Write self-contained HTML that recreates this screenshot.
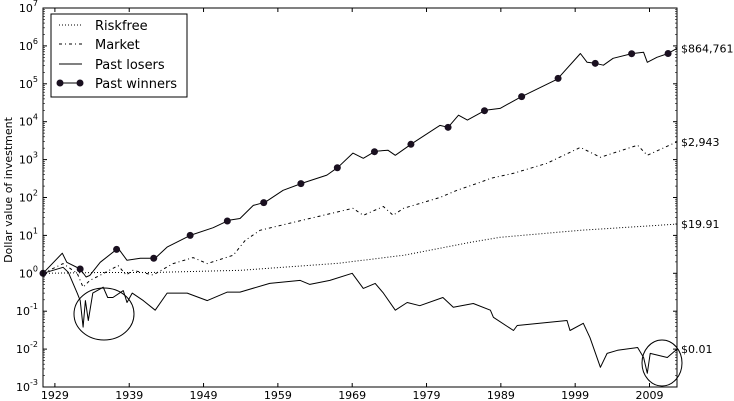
<!DOCTYPE html>
<html><head><meta charset="utf-8"><style>
body{margin:0;background:#fff;}
svg{display:block;font-family:"DejaVu Sans","Liberation Sans",sans-serif;}
</style></head><body>
<svg id="chart" width="734" height="401" viewBox="0 0 734 401" xmlns="http://www.w3.org/2000/svg">
<g id="grid-layer"></g>
<g id="series-layer"></g>
<rect x="43" y="8" width="634" height="379" fill="none" stroke="#000" stroke-width="1"/>
<text transform="translate(12,190) rotate(-90)" text-anchor="middle" font-size="11">Dollar value of investment</text>
<ellipse cx="104" cy="314" rx="30" ry="26" fill="none" stroke="#000" stroke-width="1"/>
<ellipse cx="662" cy="363" rx="20" ry="23" fill="none" stroke="#000" stroke-width="1"/>
<g>
<rect x="51" y="14" width="136" height="83" fill="#fff" stroke="#000" stroke-width="1"/>
<line x1="59" y1="25" x2="82" y2="25" stroke="#000" stroke-dasharray="1,2"/>
<text x="95" y="30" font-size="13">Riskfree</text>
<line x1="59" y1="44" x2="82" y2="44" stroke="#000" stroke-dasharray="3,3,1,3"/>
<text x="95" y="49" font-size="13">Market</text>
<line x1="59" y1="64" x2="82" y2="64" stroke="#000"/>
<text x="95" y="69" font-size="13">Past losers</text>
<line x1="60" y1="83" x2="80" y2="83" stroke="#000"/>
<circle cx="60" cy="83" r="3.5" fill="#1a1020"/>
<circle cx="80" cy="83" r="3.5" fill="#1a1020"/>
<text x="95" y="88" font-size="13">Past winners</text>
</g>
</svg>
<script>
const yearTicks=[1929,1939,1949,1959,1969,1979,1989,1999,2009];
const decadeTicks=[-3,-2,-1,0,1,2,3,4,5,6,7];
const riskYears=[1927.4,1935,1942,1954,1967.1,1976,1985,1988.9,1999.7,2012.7];
const riskValues=[1,1.05,1.05,1.2,1.84,3.0,6.6,8.9,13.6,19.91];
const marketYears=[1927.4,1930.1,1932.0,1932.8,1933.7,1935.1,1937.5,1938.6,1939.5,1942.2,1944.9,1947.6,1949.5,1953.0,1954.6,1956.6,1960.6,1965.1,1969.1,1970.5,1973.2,1974.5,1975.9,1980.8,1983.1,1986.2,1987.6,1990.7,1995.2,1999.7,2002.4,2007.4,2008.7,2012.7];
const marketValues=[1,1.8,1.0,0.43,0.65,0.89,1.6,0.9,1.2,0.9,1.8,2.6,1.8,3.0,7.4,13.6,21,34,52,34,58,34,52,100,155,250,320,435,800,2100,1150,2400,1300,2943];
const loserYears=[1927.4,1930.1,1930.8,1932.0,1932.4,1932.8,1933.1,1933.5,1934.1,1935.5,1936.1,1936.8,1938.2,1938.7,1939.4,1940.9,1942.5,1944.1,1946.8,1949.5,1952.2,1953.9,1957.9,1962.0,1963.3,1966.0,1969.0,1970.5,1972.1,1973.2,1974.8,1976.4,1978.1,1981.2,1982.6,1985.3,1987.6,1988.0,1990.7,1991.2,1997.9,1998.3,2000.1,2001.0,2002.4,2003.3,2004.7,2007.4,2008.2,2008.7,2009.1,2011.4,2012.7];
const loserValues=[1,1.44,1.06,0.30,0.19,0.038,0.19,0.057,0.30,0.43,0.23,0.23,0.35,0.17,0.30,0.19,0.106,0.30,0.30,0.19,0.32,0.32,0.54,0.65,0.51,0.65,1.0,0.40,0.54,0.30,0.106,0.17,0.14,0.23,0.127,0.16,0.106,0.069,0.031,0.042,0.057,0.031,0.048,0.020,0.0033,0.0077,0.0093,0.011,0.006,0.0023,0.0077,0.006,0.01];
const winnerYears=[1927.4,1930.0,1930.6,1932.4,1933.2,1933.7,1935.1,1937.5,1938.7,1940.5,1942.5,1944.1,1947.2,1950.3,1952.4,1953.9,1955.7,1957.3,1959.7,1962.3,1965.6,1967.1,1969.1,1970.5,1972.1,1973.8,1974.8,1977.1,1980.8,1981.9,1983.3,1984.5,1986.9,1988.9,1991.6,1996.6,1999.7,2000.6,2001.7,2002.8,2004.1,2006.7,2008.2,2008.7,2010.0,2011.5,2012.7];
const winnerValues=[1,3.4,1.95,1.3,0.8,0.88,1.95,4.6,2.2,2.5,2.5,4.9,10,16,25,28,62,75,155,240,390,630,1480,1080,1660,1770,1300,2700,8000,7100,14800,11000,20000,22500,44000,132000,630000,370000,347000,309000,470000,630000,676000,370000,500000,630000,864761];
const markerYears=[1927.4,1932.4,1937.3,1942.3,1947.2,1952.2,1957.1,1962.1,1967.0,1972.0,1976.9,1981.9,1986.8,1991.8,1996.7,2001.7,2006.6,2011.5];
const endLabels=["$864,761","$2,943","$19.91","$0.01"];
const endValues=[864761,2943,19.91,0.01];

const NS="http://www.w3.org/2000/svg";
const X0=43,X1=677,Y0=8,Y1=387,YR0=1927.4,YR1=2012.7,LMIN=-3,LMAX=7;
function xs(y){return X0+(y-YR0)/(YR1-YR0)*(X1-X0);}
function ys(v){return Y1-(Math.log10(v)-LMIN)/(LMAX-LMIN)*(Y1-Y0);}
function mk(tag,attrs,parent){const e=document.createElementNS(NS,tag);for(const k in attrs)e.setAttribute(k,attrs[k]);parent.appendChild(e);return e;}
const svg=document.getElementById('chart');
const grid=document.getElementById('grid-layer');
const ser=document.getElementById('series-layer');

yearTicks.forEach(t=>{
  const x=xs(t);
  const a=mk('line',{x1:x,y1:Y1,x2:x,y2:Y1-4,stroke:'#000'},grid);
  
  
  const b=mk('line',{x1:x,y1:Y0,x2:x,y2:Y0+4,stroke:'#000'},grid);
  
  
  const tx=mk('text',{x:x,y:399,'text-anchor':'middle','font-size':'11'},grid);
  tx.textContent=t;
  
  
});
decadeTicks.forEach(d=>{
  const y=ys(Math.pow(10,d));
  const a=mk('line',{x1:X0,y1:y,x2:X0+4,y2:y,stroke:'#000'},grid);
  
  
  const b=mk('line',{x1:X1,y1:y,x2:X1-4,y2:y,stroke:'#000'},grid);
  
  
  if(d<LMAX){for(let m=2;m<10;m++){const yy=ys(m*Math.pow(10,d));
    const c=mk('line',{x1:X0,y1:yy,x2:X0+2,y2:yy,stroke:'#000','stroke-width':0.6},grid);
    
    
    const e=mk('line',{x1:X1,y1:yy,x2:X1-2,y2:yy,stroke:'#000','stroke-width':0.6},grid);
    
    }}
  const tx=mk('text',{x:38,y:y+4,'text-anchor':'end','font-size':'11'},grid);
  tx.textContent='10';
  const sp=mk('tspan',{dy:-6,'font-size':'8'},tx);
  sp.textContent=String(d);
  
  
});
function path(ys_,vs,dash,name){
  const d=ys_.map((y,i)=>(i?'L':'M')+xs(y).toFixed(1)+','+ys(vs[i]).toFixed(1)).join('');
  const p=mk('path',{d:d,fill:'none',stroke:'#000','stroke-width':1,'stroke-linejoin':'round'},ser);
  if(dash)p.setAttribute('stroke-dasharray',dash);
  
  
}
path(riskYears,riskValues,'1,2','riskfree-line');
path(marketYears,marketValues,'3,3,1,3','market-line');
path(loserYears,loserValues,null,'past-losers-line');
path(winnerYears,winnerValues,null,'past-winners-line');
function interp(yr){
  for(let i=1;i<winnerYears.length;i++){if(yr<=winnerYears[i]){const a=winnerYears[i-1],b=winnerYears[i];const t=(yr-a)/(b-a);
    return Math.pow(10,Math.log10(winnerValues[i-1])*(1-t)+Math.log10(winnerValues[i])*t);}}
  return winnerValues[winnerValues.length-1];
}
markerYears.forEach(yr=>{
  const c=mk('circle',{cx:xs(yr),cy:ys(interp(yr)),r:3.5,fill:'#1a1020'},ser);
  
  
});
endLabels.forEach((l,i)=>{
  const t=mk('text',{x:681,y:ys(endValues[i])+4,'font-size':'11'},svg);
  t.textContent=l;
  
  
});
</script>
</body></html>
